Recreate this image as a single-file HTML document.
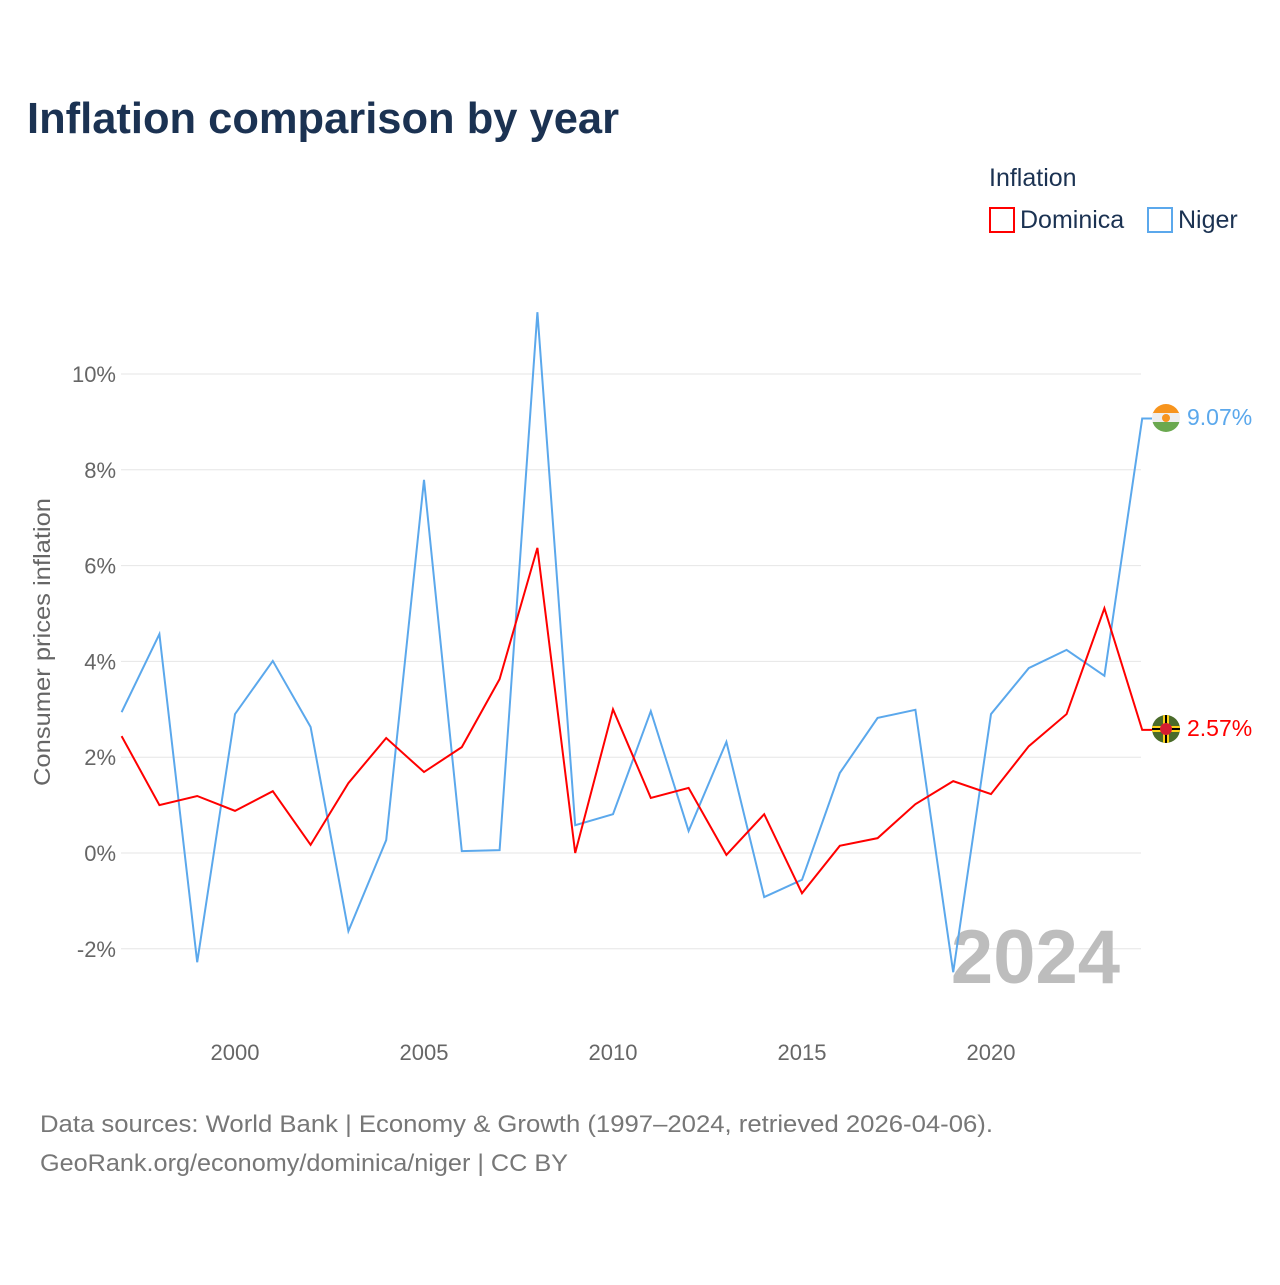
<!DOCTYPE html>
<html><head><meta charset="utf-8"><style>
body{margin:0;background:#fff;font-family:"Liberation Sans",sans-serif;}
#wrap{position:relative;width:1280px;height:1280px;}
</style></head><body>
<div id="wrap">
<svg id="chart" width="1280" height="1280" xmlns="http://www.w3.org/2000/svg">
<text x="27" y="133" font-size="44" font-weight="bold" fill="#1b3252" textLength="592" lengthAdjust="spacingAndGlyphs">Inflation comparison by year</text>
<text x="989" y="186" font-size="25" fill="#1b3252">Inflation</text>
<g><rect x="990" y="208" width="24" height="24" fill="none" stroke="#f00" stroke-width="2"/><text x="1020" y="228" font-size="25" fill="#1b3252">Dominica</text></g>
<g><rect x="1148" y="208" width="24" height="24" fill="none" stroke="#5ba8ec" stroke-width="2"/><text x="1178" y="228" font-size="25" fill="#1b3252">Niger</text></g>
<text transform="translate(50,642) rotate(-90)" text-anchor="middle" font-size="23" fill="#666" textLength="288" lengthAdjust="spacingAndGlyphs">Consumer prices inflation</text>
<g id="grid"></g><g id="yt"></g><g id="xt"></g>
<text x="1120" y="983" text-anchor="end" font-size="76" font-weight="bold" fill="#bdbdbd">2024</text>
<g id="lines"></g>
<g><clipPath id="cn"><circle cx="1166" cy="418" r="14"/></clipPath><g clip-path="url(#cn)"><rect x="1152" y="404" width="28" height="10" fill="#f7941d"/><rect x="1152" y="413" width="28" height="10" fill="#eee"/><rect x="1152" y="422" width="28" height="10" fill="#6aa84f"/><circle cx="1166" cy="418" r="4" fill="#f7941d"/></g></g>
<g><clipPath id="cd"><circle cx="1166" cy="729" r="14"/></clipPath><g clip-path="url(#cd)"><rect x="1152" y="715" width="28" height="28" fill="#4a6b2a"/><rect x="1152" y="726" width="28" height="6" fill="#fcd116"/><rect x="1163" y="715" width="6" height="28" fill="#fcd116"/><rect x="1152" y="728" width="28" height="2" fill="#000"/><rect x="1165" y="715" width="2" height="28" fill="#000"/><circle cx="1166" cy="729" r="6" fill="#d41c30"/></g></g>
<text x="1187" y="425" font-size="23" fill="#5ba8ec">9.07%</text>
<text x="1187" y="736" font-size="23" fill="#f00">2.57%</text>
<text x="40" y="1132" font-size="24" fill="#777" textLength="953" lengthAdjust="spacingAndGlyphs">Data sources: World Bank | Economy &amp; Growth (1997–2024, retrieved 2026-04-06).</text>
<text x="40" y="1171" font-size="24" fill="#777" textLength="528" lengthAdjust="spacingAndGlyphs">GeoRank.org/economy/dominica/niger | CC BY</text>
</svg></div>
<script>
const years=[1997,1998,1999,2000,2001,2002,2003,2004,2005,2006,2007,2008,2009,2010,2011,2012,2013,2014,2015,2016,2017,2018,2019,2020,2021,2022,2023,2024];
const dominica=[2.44,1.0,1.19,0.88,1.29,0.17,1.46,2.4,1.69,2.21,3.63,6.37,0.0,3.0,1.15,1.36,-0.04,0.81,-0.84,0.15,0.31,1.02,1.5,1.23,2.23,2.9,5.11,2.57];
const niger=[2.94,4.57,-2.28,2.9,4.01,2.63,-1.63,0.27,7.79,0.04,0.06,11.29,0.58,0.81,2.96,0.46,2.32,-0.92,-0.56,1.67,2.82,2.99,-2.49,2.9,3.86,4.24,3.7,9.07];
const yTicks=[-2,0,2,4,6,8,10];
const yTickLabels=["-2%","0%","2%","4%","6%","8%","10%"];
const xTicks=[2000,2005,2010,2015,2020];
const X=y=>235+(y-2000)*37.8;
const Y=v=>853-v*47.9;
const NS="http://www.w3.org/2000/svg";
function mk(tag,attrs,parent){const e=document.createElementNS(NS,tag);for(const k in attrs)e.setAttribute(k,attrs[k]);parent.appendChild(e);return e;}
const grid=document.getElementById('grid'),yt=document.getElementById('yt'),xt=document.getElementById('xt'),lines=document.getElementById('lines');
yTicks.forEach((t,i)=>{
 const l=mk('line',{x1:121,x2:1141,y1:Y(t),y2:Y(t),stroke:'#e6e6e6','stroke-width':1},grid);
 
 
 const tx=mk('text',{x:116,y:Y(t)+8,'text-anchor':'end','font-size':22,fill:'#666'},yt);
 tx.textContent=yTickLabels[i];
 
 
});
xTicks.forEach(t=>{
 const tx=mk('text',{x:X(t),y:1060,'text-anchor':'middle','font-size':22,fill:'#666'},xt);
 tx.textContent=t;
 
 
});
function series(vals,color,name){
 let d=vals.map((v,i)=>(i?'L':'M')+X(years[i])+','+Y(v)).join(' ');
 d+=' L1152,'+Y(vals[vals.length-1]);
 const p=mk('path',{d:d,fill:'none',stroke:color,'stroke-width':2},lines);
 
 
}
series(niger,'#5ba8ec','niger-line');
series(dominica,'#f00','dominica-line');
</script>
</body></html>
